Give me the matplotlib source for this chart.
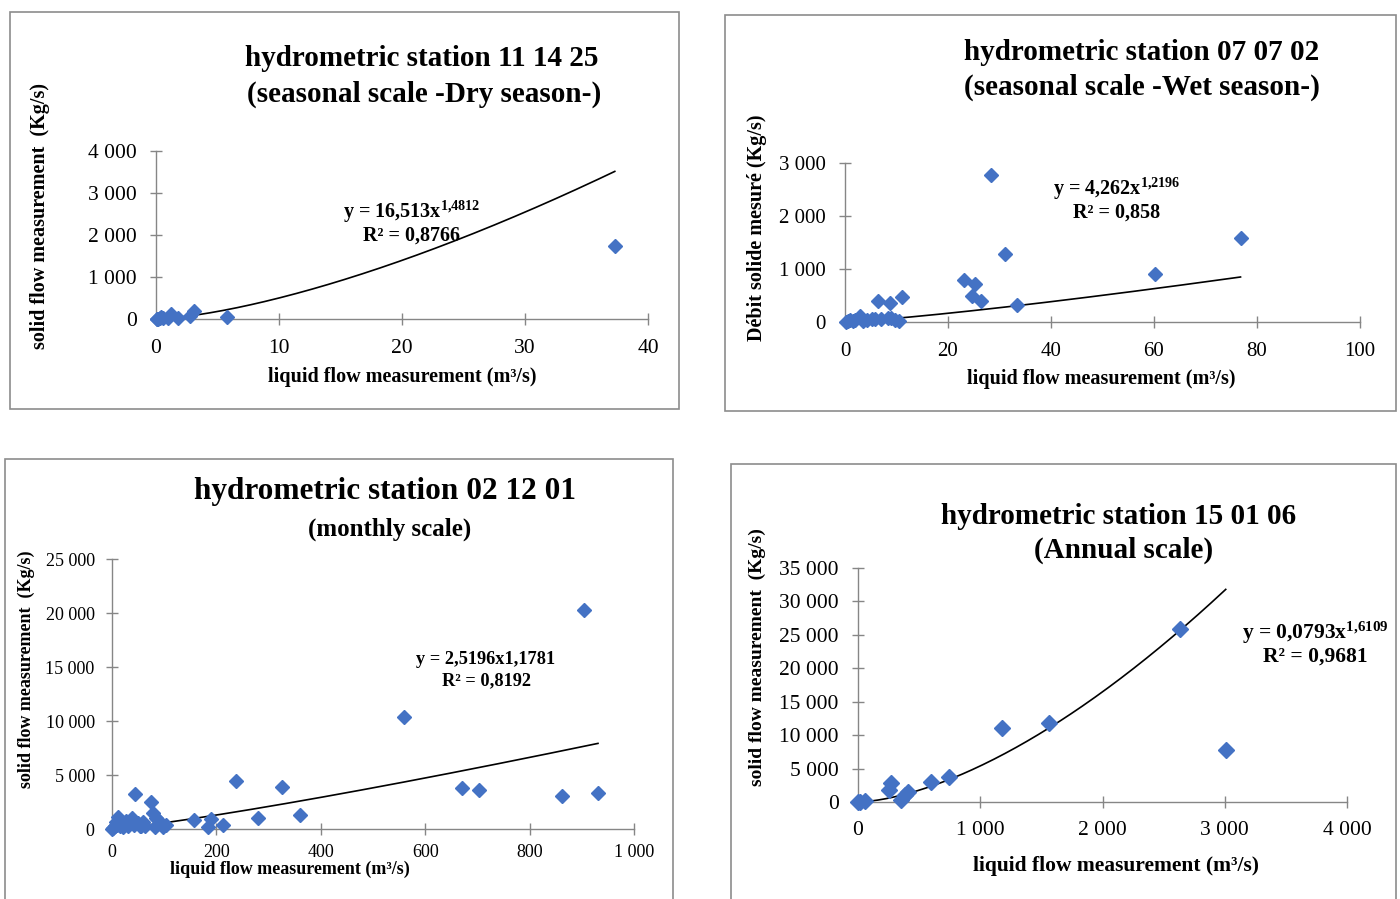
import numpy as np
import matplotlib
matplotlib.use("Agg")
import matplotlib.pyplot as plt
from matplotlib.patches import Rectangle
from matplotlib.ticker import FuncFormatter

plt.rcParams['font.family'] = ['Liberation Serif', 'DejaVu Serif']
plt.rcParams['mathtext.fontset'] = 'custom'
plt.rcParams['mathtext.rm'] = 'Liberation Serif:bold'
plt.rcParams['mathtext.bf'] = 'Liberation Serif:bold'
plt.rcParams['mathtext.it'] = 'Liberation Serif:bold:italic'

W, H = 1400, 899

# ---- data ----
# station 11 14 25, dry season
x1 = [0.05, 0.1, 0.2, 0.3, 0.4, 0.6, 0.95, 1.2, 1.8, 2.8, 3.1, 5.8, 37.3]
y1 = [0, 10, 5, 20, 40, 15, 20, 120, 20, 60, 185, 50, 1740]
fit1 = (16.513, 1.4812)

# station 07 07 02, wet season
x2 = [0.1, 0.5, 1.0, 1.5, 2.0, 2.9, 3.5, 4.3, 5.2, 5.8, 7.0, 8.3, 9.0, 9.7, 10.4,
      6.5, 8.7, 11.0, 23.2, 24.7, 25.2, 26.5, 28.4, 31.1, 33.4, 60.1, 76.8]
y2 = [0, 10, 30, 15, 40, 120, 20, 30, 60, 50, 60, 80, 70, 40, 20,
      400, 350, 470, 790, 486, 726, 392, 2767, 1276, 316, 897, 1579]
fit2 = (4.262, 1.2196)

# station 02 12 01, monthly
x3 = [0, 2, 5, 8, 9, 12, 15, 18, 22, 26, 28, 31, 34, 38, 42, 45, 49, 53, 56, 59,
      64, 75, 79, 83, 85, 86, 98, 104, 158, 184, 189, 212, 237, 279, 326, 361,
      559, 670, 703, 863, 904, 931]
y3 = [0, 100, 250, 680, 400, 1140, 300, 500, 200, 700, 528, 300, 700, 990, 400,
      3200, 525, 250, 278, 680, 300, 2470, 1509, 216, 990, 895, 213, 370, 833,
      154, 895, 370, 4470, 1049, 3858, 1296, 10340, 3765, 3611, 3056, 20278, 3364]
fit3 = (2.5196, 1.1781)

# station 15 01 06, annual
x4 = [0, 14, 55, 254, 273, 354, 382, 409, 600, 742, 1178, 1562, 2631, 3008]
y4 = [0, 0, 100, 1750, 2850, 350, 1000, 1500, 3000, 3700, 11100, 11850, 25850, 7850]
fit4 = (0.0793, 1.6109)

panels = [
    dict(x=x1, y=y1, fit=fit1, fit_from=0.5,
         box=(156, 648, 151, 319), xlim=(0, 40), ylim=(0, 4000),
         xticks=[0, 10, 20, 30, 40], yticks=[0, 1000, 2000, 3000, 4000],
         frame=(10, 12, 679, 409),
         titles=[("hydrometric station 11 14 25", 422, 58, 21),
                 ("(seasonal scale -Dry season-)", 424, 94, 21)],
         ylabel=("solid flow measurement  (Kg/s)", 40, 216, 14.5),
         xlabel=("liquid flow measurement (m³/s)", 402, 377, 14.5),
         eq=(r"y = 16,513x$^{\mathbf{1{,}4812}}$", "R² = 0,8766", 412, 212, 236, 14.5),
         tick_fs=15.5, ms=7, xpad=10.5, ypad=10),
    dict(x=x2, y=y2, fit=fit2, fit_from=0.1,
         box=(845, 1360, 163, 322), xlim=(0, 100), ylim=(0, 3000),
         xticks=[0, 20, 40, 60, 80, 100], yticks=[0, 1000, 2000, 3000],
         frame=(725, 15, 1396, 411),
         titles=[("hydrometric station 07 07 02", 1142, 53, 21),
                 ("(seasonal scale -Wet season-)", 1142, 87, 21)],
         ylabel=("Débit solide mesuré (Kg/s)", 757, 228, 14.5),
         xlabel=("liquid flow measurement (m³/s)", 1101, 379, 14.5),
         eq=(r"y = 4,262x$^{\mathbf{1{,}2196}}$", "R² = 0,858", 1117, 189, 213, 14.5),
         tick_fs=15, ms=7, xpad=10.5, ypad=10),
    dict(x=x3, y=y3, fit=fit3, fit_from=1,
         box=(112, 634, 559, 829), xlim=(0, 1000), ylim=(0, 25000),
         xticks=[0, 200, 400, 600, 800, 1000],
         yticks=[0, 5000, 10000, 15000, 20000, 25000],
         frame=(5, 459, 673, 905),
         titles=[("hydrometric station 02 12 01", 385, 491, 22.5),
                 ("(monthly scale)", 390, 529, 18)],
         ylabel=("solid flow measurement  (Kg/s)", 26, 669, 13),
         xlabel=("liquid flow measurement (m³/s)", 290, 869, 13),
         eq=("y = 2,5196x1,1781", "R² = 0,8192", 486, 660, 681, 13.2),
         tick_fs=13, ms=7, xpad=7, ypad=8.5),
    dict(x=x4, y=y4, fit=fit4, fit_from=14,
         box=(858, 1347, 568, 802), xlim=(0, 4000), ylim=(0, 35000),
         xticks=[0, 1000, 2000, 3000, 4000],
         yticks=[0, 5000, 10000, 15000, 20000, 25000, 30000, 35000],
         frame=(731, 464, 1396, 905),
         titles=[("hydrometric station 15 01 06", 1119, 517, 21),
                 ("(Annual scale)", 1124, 550, 21)],
         ylabel=("solid flow measurement  (Kg/s)", 757, 657, 14),
         xlabel=("liquid flow measurement (m³/s)", 1116, 866, 15.5),
         eq=(r"y = 0,0793x$^{\mathbf{1{,}6109}}$", "R² = 0,9681", 1315, 633, 657, 15.5),
         tick_fs=15.5, ms=8, xpad=10, ypad=10),
]

blue = '#4472C4'
axis_grey = '#868686'


def fx(px):
    return px / W


def fy(py):
    return 1 - py / H


def thousands(v, pos):
    return f"{int(round(v)):,}".replace(",", " ")


fig = plt.figure(figsize=(W / 100, H / 100), dpi=100)

for p in panels:
    l, r, t, b = p['box']
    ax = fig.add_axes([fx(l), fy(b), (r - l) / W, (b - t) / H])
    ax.set_xlim(*p['xlim'])
    ax.set_ylim(*p['ylim'])
    ax.set_xticks(p['xticks'])
    ax.set_yticks(p['yticks'])
    ax.xaxis.set_major_formatter(FuncFormatter(thousands))
    ax.yaxis.set_major_formatter(FuncFormatter(thousands))
    for s in ['top', 'right']:
        ax.spines[s].set_visible(False)
    for s in ['left', 'bottom']:
        ax.spines[s].set_color(axis_grey)
        ax.spines[s].set_linewidth(1.0)
    ax.tick_params(direction='inout', length=8, width=1.0, color=axis_grey,
                   labelsize=p['tick_fs'])
    ax.tick_params(axis='x', pad=p['xpad'])
    ax.tick_params(axis='y', pad=p['ypad'])
    ax.patch.set_alpha(0)

    a, k = p['fit']
    xs = np.linspace(p['fit_from'], max(p['x']), 200)
    ax.plot(xs, a * xs ** k, color='black', lw=1.2, zorder=2)
    ax.plot(p['x'], p['y'], 'D', color=blue, ms=p['ms'], mec=blue, zorder=3,
            clip_on=False)

    for txt, cx, cy, fs in p['titles']:
        fig.text(fx(cx), fy(cy), txt, ha='center', va='center', fontsize=fs,
                 fontweight='bold')
    txt, cx, cy, fs = p['ylabel']
    fig.text(fx(cx), fy(cy), txt, ha='center', va='center', fontsize=fs,
             fontweight='bold', rotation=90)
    txt, cx, cy, fs = p['xlabel']
    fig.text(fx(cx), fy(cy), txt, ha='center', va='center', fontsize=fs,
             fontweight='bold')
    e1, e2, cx, cy1, cy2, fs = p['eq']
    fig.text(fx(cx), fy(cy1), e1, ha='center', va='center', fontsize=fs,
             fontweight='bold')
    fig.text(fx(cx), fy(cy2), e2, ha='center', va='center', fontsize=fs,
             fontweight='bold')

    x0, y0, x1_, y1_ = p['frame']
    fig.add_artist(Rectangle((fx(x0), fy(y1_)), (x1_ - x0) / W, (y1_ - y0) / H,
                             transform=fig.transFigure, fill=False,
                             edgecolor='#8c8c8c', lw=1.2))

fig.savefig("out.png", dpi=100)
